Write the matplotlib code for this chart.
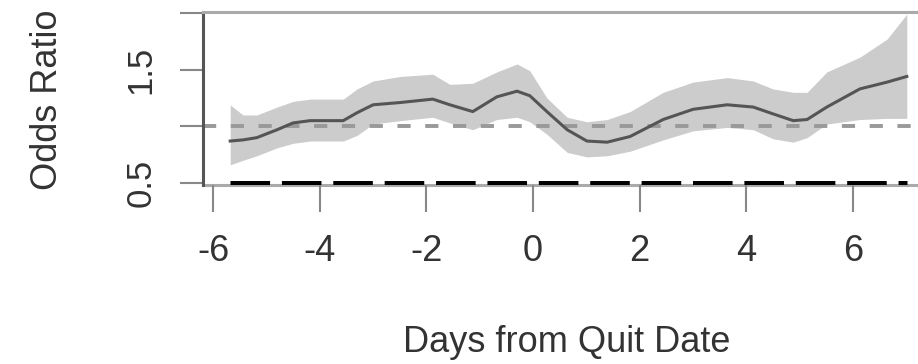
import numpy as np
import matplotlib.pyplot as plt

plt.rcParams['font.family'] = ['Liberation Sans', 'DejaVu Sans']
plt.rcParams['lines.scale_dashes'] = False

# days from quit date
days = [-5.68, -5.44, -5.18, -4.80, -4.50, -4.18, -3.56, -3.30, -3.00, -2.49,
        -1.88, -1.56, -1.13, -0.68, -0.30, -0.06, 0.26, 0.64, 1.01, 1.39, 1.82,
        2.44, 3.00, 3.64, 4.13, 4.50, 4.88, 5.14, 5.51, 6.13, 6.64, 7.01]
odds = [0.87, 0.88, 0.90, 0.97, 1.03, 1.05, 1.05, 1.12, 1.19, 1.21,
        1.24, 1.19, 1.13, 1.26, 1.31, 1.27, 1.13, 0.97, 0.87, 0.86, 0.91,
        1.06, 1.15, 1.19, 1.17, 1.11, 1.05, 1.06, 1.17, 1.33, 1.39, 1.44]
upper = [1.19, 1.10, 1.10, 1.17, 1.22, 1.24, 1.24, 1.33, 1.40, 1.44,
         1.46, 1.37, 1.38, 1.48, 1.55, 1.49, 1.25, 1.08, 1.04, 1.06, 1.13,
         1.30, 1.39, 1.43, 1.40, 1.33, 1.30, 1.30, 1.48, 1.61, 1.77, 1.99]
lower = [0.66, 0.70, 0.74, 0.81, 0.85, 0.87, 0.87, 0.92, 1.02, 1.05,
         1.08, 1.03, 0.97, 1.06, 1.08, 1.04, 0.93, 0.77, 0.73, 0.74, 0.78,
         0.88, 0.96, 0.99, 0.97, 0.89, 0.86, 0.90, 1.02, 1.06, 1.07, 1.07]

xticks = [-6, -4, -2, 0, 2, 4, 6]
yticks = [0.5, 1.0, 1.5, 2.0]
ylabels = ['0.5', '', '1.5', '']

fig = plt.figure(figsize=(9.18, 3.64), dpi=100)
ax = fig.add_axes([203/918, 179/364, 715/918, 173/364])

ax.fill_between(days, lower, upper, color='#cccccc', lw=0)
ax.axhline(1.0, color='#999999', lw=2.8, dashes=(9.5, 10.5))
ax.plot(days, odds, color='#555555', lw=2.2, solid_joinstyle='round')
ax.plot([days[0], days[-1]], [0.5, 0.5], color='black', lw=3.6,
        dashes=(28.5, 8.5), dash_capstyle='butt')

ax.set_xlim(-6.19, 7.22)
ax.set_ylim(0.482, 2.009)

for s in ['top', 'bottom']:
    ax.spines[s].set_color('#aaaaaa')
    ax.spines[s].set_linewidth(2.2)
ax.spines['left'].set_color('#555555')
ax.spines['left'].set_linewidth(2.2)
ax.spines['right'].set_visible(False)
ax.spines['bottom'].set_zorder(0.5)

ax.set_xticks(xticks)
ax.set_xticklabels([str(t) for t in xticks])
ax.set_yticks(yticks)
ax.set_yticklabels(ylabels, rotation=90, va='center')
ax.tick_params(axis='x', direction='out', length=19.4, width=1.5,
               color='#888888', labelsize=26, labelcolor='#333333', pad=16)
ax.tick_params(axis='y', direction='out', length=16.6, width=1.5,
               color='#888888', labelsize=25, labelcolor='#333333', pad=16)

ax.set_xlabel('Days from Quit Date', fontsize=26, color='#333333', va='center')
ax.xaxis.set_label_coords(0.509, -0.913)
ax.set_ylabel('Odds Ratio', fontsize=26, color='#333333', va='center')
ax.yaxis.set_label_coords(-0.2168, 0.49)

fig.savefig('out.png', dpi=100)
